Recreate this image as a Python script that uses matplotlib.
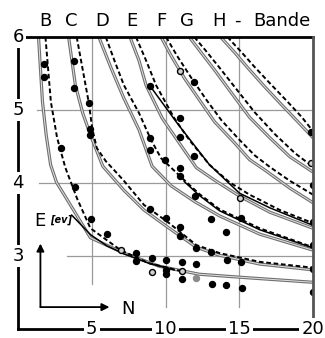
# Energy levels of the B...H bands against chain length N (redrawn from a scanned figure).
import matplotlib
matplotlib.use("Agg")
import matplotlib.pyplot as plt

# Band curves as (N, E) points; solid = grey curve, dashed = black dashed curve.
b_solid = [(1.39, 6.0), (1.66, 5.11), (1.91, 4.66), (2.21, 4.25), (2.61, 4.01), (3.43, 3.74),
           (4.91, 3.25), (7.18, 3.04), (9.57, 2.86), (12.29, 2.75), (15.70, 2.70), (20.0, 2.64)]
b_dashed = [(1.86, 6.0), (2.23, 5.11), (2.65, 4.62), (3.21, 4.21), (4.0, 3.79), (4.91, 3.38),
            (6.96, 3.08), (8.89, 2.90), (11.13, 2.79)]
c_solid = [(3.43, 6.0), (3.89, 5.34), (4.40, 4.95), (4.91, 4.66), (5.75, 4.23), (7.18, 3.90),
           (8.54, 3.63), (10.25, 3.38), (12.09, 3.12), (13.66, 3.01), (16.38, 2.89), (20.0, 2.81)]
c_dashed = [(3.98, 6.0), (4.80, 5.10), (5.03, 4.75), (5.34, 4.48), (5.95, 4.30), (6.64, 4.15),
            (7.18, 4.03), (8.54, 3.70), (10.25, 3.45), (12.09, 3.15), (13.66, 3.04), (16.38, 2.92),
            (20.0, 2.84)]
d_solid = [(5.48, 6.0), (6.30, 5.58), (7.18, 5.16), (8.20, 4.73), (9.09, 4.23), (10.39, 3.96),
           (12.02, 3.74), (13.66, 3.55), (16.38, 3.30), (20.0, 3.08)]
d_dashed = [(5.95, 6.0), (6.57, 5.66), (7.18, 5.34), (8.20, 4.96), (9.02, 4.59), (9.70, 4.34),
            (11.27, 4.04), (12.29, 3.85), (13.66, 3.64), (16.38, 3.38), (20.0, 3.12)]
e_solid = [(7.59, 6.0), (8.20, 5.68), (8.68, 5.34), (9.77, 4.89), (10.79, 4.59), (12.09, 4.21),
           (13.32, 4.04), (15.02, 3.82), (17.07, 3.60), (20.0, 3.38)]
e_dashed = [(8.0, 6.0), (8.68, 5.68), (9.36, 5.34), (10.59, 4.89), (11.61, 4.59), (12.98, 4.25),
            (14.34, 4.01), (15.70, 3.84), (17.75, 3.63), (20.0, 3.45)]
f_solid = [(9.70, 6.0), (10.39, 5.74), (11.27, 5.44), (12.29, 5.14), (13.32, 4.84), (14.68, 4.55),
           (15.70, 4.32), (16.72, 4.18), (18.43, 3.93), (20.0, 3.73)]
f_dashed = [(10.04, 6.0), (10.79, 5.74), (11.75, 5.44), (12.77, 5.14), (13.79, 4.86), (15.02, 4.59),
            (16.04, 4.38), (17.07, 4.22), (18.43, 4.03), (20.0, 3.84)]
g_solid = [(11.61, 6.0), (12.29, 5.82), (13.32, 5.55), (14.34, 5.27), (15.70, 4.90), (17.07, 4.62),
           (18.43, 4.36), (20.0, 4.15)]
g_dashed = [(11.95, 6.0), (12.70, 5.82), (13.66, 5.58), (14.75, 5.30), (16.04, 4.97), (17.41, 4.67),
            (18.77, 4.41), (20.0, 4.22)]
h_solid = [(13.73, 6.0), (14.68, 5.79), (15.57, 5.58), (16.72, 5.32), (17.88, 5.07), (18.97, 4.84),
           (20.0, 4.62)]
h_dashed = [(14.20, 6.0), (15.16, 5.79), (16.04, 5.59), (17.20, 5.34), (18.29, 5.11), (19.25, 4.90),
            (20.0, 4.71)]

# Thin black solid curves that run alongside some bands.
b_black = [(3.64, 3.56), (4.93, 3.29), (6.02, 3.14), (7.18, 3.03), (8.89, 2.90), (10.59, 2.81)]
d_black = [(11.27, 4.02), (12.29, 3.83), (13.66, 3.62), (16.38, 3.36), (20.0, 3.11)]
e_black = [(8.95, 5.33), (10.79, 4.82), (12.98, 4.25), (15.02, 3.86), (17.07, 3.66), (20.0, 3.42)]

# Measured points.
dots_filled = [(1.73, 5.63), (1.78, 5.45), (2.91, 4.48), (3.77, 5.67), (3.77, 5.30), (4.84, 5.10),
               (4.91, 4.74), (4.91, 4.66), (8.93, 5.33), (11.91, 5.38), (11.0, 4.89), (11.0, 4.63),
               (8.95, 4.62), (8.95, 4.45), (9.96, 4.32), (11.95, 4.37), (11.0, 4.21), (11.0, 4.10),
               (19.84, 4.70), (19.98, 3.97), (3.89, 3.95), (4.98, 3.51), (6.04, 3.30), (8.95, 3.64),
               (10.02, 3.52), (11.0, 3.40), (11.0, 3.27), (12.07, 3.11), (13.09, 3.05), (12.02, 3.82),
               (13.09, 3.51), (8.02, 3.04), (8.02, 2.93), (9.06, 2.97), (10.02, 2.95), (10.04, 2.81),
               (10.04, 2.75), (11.09, 2.92), (11.09, 2.68), (12.07, 2.89), (13.18, 2.62), (15.09, 3.52),
               (14.11, 3.33), (19.98, 3.47), (19.98, 3.15), (14.18, 2.95), (15.09, 2.92), (19.98, 2.82),
               (14.11, 2.60), (15.16, 2.56), (20.0, 2.51)]
dots_open = [(11.0, 5.53), (19.84, 4.27), (7.01, 3.08), (9.06, 2.78), (11.09, 2.79), (15.02, 3.79)]
dots_grey = [(12.07, 2.70)]

band_letters = ["B", "C", "D", "E", "F", "G", "H"]
band_letter_n = [1.86, 3.64, 5.68, 7.73, 9.70, 11.48, 13.66]
y_ticks = [6, 5, 4, 3]
x_ticks = [5, 10, 15, 20]


def xy(points):
    return [p[0] for p in points], [p[1] for p in points]


fig = plt.figure(figsize=(3.25, 3.38), dpi=100)
ax = fig.add_axes([18 / 325, 9 / 338, 295 / 325, 292 / 338])
ax.set_xlim(0, 20)
ax.set_ylim(2, 6)
ax.axis("off")

# grid lines (partial, as in the original)
grid = dict(color="#9a9a9a", lw=0.9, zorder=1)
ax.plot([1.3, 20], [5, 5], **grid)
ax.plot([1.4, 20], [4, 4], **grid)
ax.plot([3.3, 20], [3, 3], **grid)
ax.plot([5, 5], [6, 2.62], **grid)
ax.plot([10, 10], [6, 2.3], **grid)
ax.plot([15, 15], [6, 2.3], **grid)

# grey double-looking solid curves
for curve in [b_solid, c_solid, d_solid, e_solid, f_solid, g_solid, h_solid]:
    n, e = xy(curve)
    ax.plot(n, e, color="#6f6f6f", lw=2.3, solid_capstyle="butt", solid_joinstyle="round", zorder=2)
    ax.plot(n, e, color="#e2e2e2", lw=0.7, solid_joinstyle="round", zorder=2)

for curve in [b_black, d_black, e_black]:
    n, e = xy(curve)
    ax.plot(n, e, color="black", lw=1.1, zorder=3)

for curve in [b_dashed, c_dashed, d_dashed, e_dashed, f_dashed, g_dashed, h_dashed]:
    n, e = xy(curve)
    ax.plot(n, e, color="black", lw=1.4, dashes=(2.4, 1.4), zorder=3)

n, e = xy(dots_filled)
ax.plot(n, e, "o", color="black", ms=4.3, zorder=4)
n, e = xy(dots_open)
ax.plot(n, e, "o", mfc="#d0d0d0", mec="black", mew=1.0, ms=4.3, zorder=4)
n, e = xy(dots_grey)
ax.plot(n, e, "o", color="#8a8a8a", ms=4.3, zorder=4)

# hand-drawn frame: left, bottom, top and right lines, labels sit in gaps
frame = dict(color="black", lw=2.0, clip_on=False, zorder=5)
ax.plot([0, 0], [6, 2], **frame)
ax.plot([0, 20], [2, 2], **frame)
ax.plot([0.5, 20], [6, 6], **frame)
ax.plot([20, 20], [6, 2.16], color="#555555", lw=2.0, clip_on=False, zorder=5)

box = dict(facecolor="white", edgecolor="none", pad=1.5)
for t in y_ticks:
    ax.text(0, t, str(t), ha="center", va="center", fontsize=13, bbox=box, zorder=6)
for t in x_ticks:
    ax.text(t, 2, str(t), ha="center", va="center", fontsize=13, bbox=box, zorder=6)

for letter, pos in zip(band_letters, band_letter_n):
    ax.text(pos, 6.22, letter, ha="center", va="center", fontsize=13, clip_on=False)
ax.text(14.85, 6.22, "-", ha="center", va="center", fontsize=13, clip_on=False)
ax.text(17.88, 6.22, "Bande", ha="center", va="center", fontsize=13, clip_on=False)

# axis names with small arrows
ax.text(1.46, 3.48, "E", ha="center", va="center", fontsize=13, zorder=6)
ax.text(2.9, 3.5, "[ev]", ha="center", va="center", fontsize=7, style="italic",
        fontweight="bold", zorder=6)
arrow = dict(arrowstyle="-|>", color="black", lw=1.3, mutation_scale=11, shrinkA=0, shrinkB=0)
ax.annotate("", xy=(1.52, 3.17), xytext=(1.52, 2.30), arrowprops=arrow)
ax.annotate("", xy=(6.2, 2.30), xytext=(1.52, 2.30), arrowprops=arrow)
ax.text(7.45, 2.27, "N", ha="center", va="center", fontsize=13)

fig.savefig("out.png", dpi=100)
